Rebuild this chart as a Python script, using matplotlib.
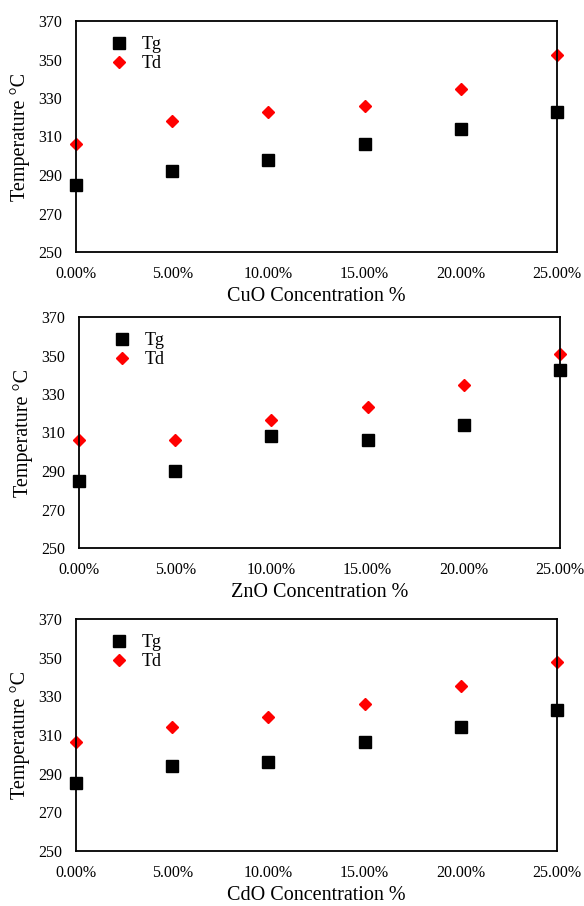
import numpy as np
import matplotlib
matplotlib.use("Agg")
import matplotlib.pyplot as plt
from matplotlib.ticker import PercentFormatter

plt.rcParams['font.family'] = ['Liberation Serif', 'DejaVu Serif']

# concentrations (fraction)
conc = [0.0, 0.05, 0.10, 0.15, 0.20, 0.25]

# glass transition / decomposition temperatures (deg C)
cuo_tg = [285, 292, 298, 306, 314, 322.5]
cuo_td = [306, 318, 322.5, 326, 334.5, 352.5]

zno_tg = [285, 290, 308, 306, 314, 342.5]
zno_td = [306, 306, 316.5, 323, 334.5, 351]

cdo_tg = [285, 294, 296, 306.5, 314, 323]
cdo_td = [306.5, 314, 319.5, 326, 335.5, 348]

panels = [
    ("CuO Concentration %", cuo_tg, cuo_td),
    ("ZnO Concentration %", zno_tg, zno_td),
    ("CdO Concentration %", cdo_tg, cdo_td),
]

W, H = 584, 906
fig = plt.figure(figsize=(W / 100, H / 100), dpi=100)

# axes boxes in pixels: left, top, right, bottom
boxes = [
    (76, 21, 557, 252),
    (79, 317, 560, 548),
    (76, 619, 557, 851),
]

for (xlabel, tg, td), (l, t, r, b) in zip(panels, boxes):
    ax = fig.add_axes([l / W, 1 - b / H, (r - l) / W, (b - t) / H])
    ax.plot(conc, tg, linestyle='none', marker='s', markersize=8.5,
            color='black', label='Tg')
    ax.plot(conc, td, linestyle='none', marker='D', markersize=6,
            color='#ff0000', label='Td')
    ax.set_xlim(0, 0.25)
    ax.set_ylim(250, 370)
    ax.set_yticks(np.arange(250, 371, 20))
    ax.set_xticks(conc)
    ax.xaxis.set_major_formatter(PercentFormatter(xmax=1, decimals=2))
    ax.tick_params(length=0, labelsize=11.5)
    ax.tick_params(axis='x', pad=10)
    ax.tick_params(axis='y', pad=10)
    for sp in ax.spines.values():
        sp.set_linewidth(1.3)
        sp.set_color('black')
    for m in (ax.lines[0], ax.lines[1]):
        m.set_clip_on(False)
    ax.set_ylabel("Temperature °C", fontsize=14.5, labelpad=6)
    ax.set_xlabel(xlabel, fontsize=14.5, labelpad=4)
    ax.legend(loc='upper left', bbox_to_anchor=(0.03, 1.0), frameon=False,
              fontsize=13, handletextpad=0.5, borderpad=0.35,
              labelspacing=0.1, handlelength=1.5)

fig.savefig("out.png", dpi=100)
